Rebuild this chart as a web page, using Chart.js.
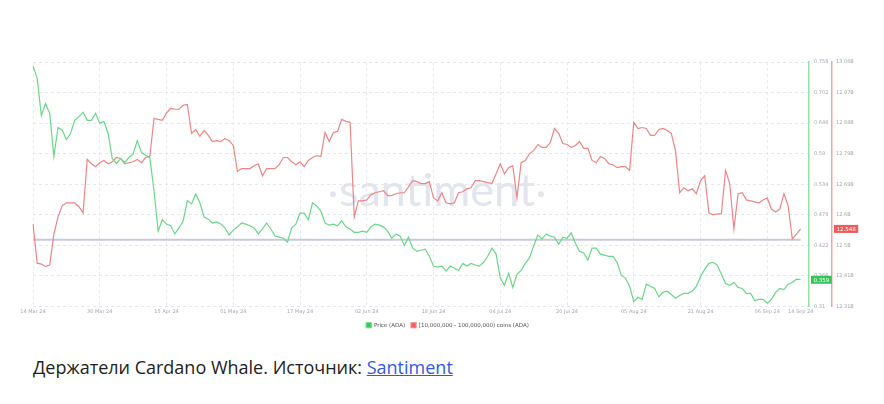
<!DOCTYPE html>
<html>
<head>
<meta charset="utf-8">
<script src="https://cdn.jsdelivr.net/npm/chart.js@4"></script>
<style>
  body { margin: 0; background: #fff; }
  #wrap { position: absolute; left: 0; top: 0; width: 884px; height: 340px; }
  #caption { position: absolute; left: 33px; top: 355px; font-family: 'Open Sans', sans-serif; font-size: 18px; color: #222; }
  #caption a { color: #2f5ae8; text-decoration: underline; }
</style>
</head>
<body>
<div id="wrap"><canvas id="whaleChart"></canvas></div>
<div id="caption">Держатели Cardano Whale. Источник: <a href="#">Santiment</a></div>
<script>
// daily values, 14 Mar 24 .. 14 Sep 24
const priceADA = [
  0.751, 0.728, 0.660, 0.682, 0.664, 0.585, 0.638, 0.633, 0.616, 0.627,
  0.651, 0.658, 0.666, 0.651, 0.651, 0.664, 0.646, 0.649, 0.627, 0.581,
  0.572, 0.581, 0.574, 0.583, 0.590, 0.614, 0.592, 0.587, 0.583, 0.522,
  0.448, 0.469, 0.461, 0.458, 0.443, 0.454, 0.467, 0.504, 0.498, 0.516,
  0.500, 0.474, 0.470, 0.463, 0.465, 0.461, 0.454, 0.441, 0.450, 0.456,
  0.463, 0.461, 0.458, 0.454, 0.443, 0.452, 0.463, 0.452, 0.439, 0.437,
  0.435, 0.428, 0.454, 0.461, 0.481, 0.481, 0.469, 0.500, 0.494, 0.485,
  0.463, 0.459, 0.461, 0.458, 0.467, 0.456, 0.452, 0.446, 0.446, 0.448,
  0.446, 0.456, 0.461, 0.459, 0.456, 0.448, 0.435, 0.443, 0.439, 0.422,
  0.437, 0.417, 0.411, 0.413, 0.415, 0.402, 0.384, 0.382, 0.384, 0.375,
  0.384, 0.380, 0.376, 0.389, 0.384, 0.389, 0.386, 0.384, 0.391, 0.402,
  0.417, 0.406, 0.362, 0.349, 0.371, 0.345, 0.369, 0.376, 0.389, 0.399,
  0.421, 0.441, 0.434, 0.443, 0.439, 0.437, 0.424, 0.437, 0.435, 0.445,
  0.426, 0.411, 0.408, 0.395, 0.417, 0.417, 0.406, 0.404, 0.402, 0.402,
  0.391, 0.367, 0.362, 0.347, 0.319, 0.327, 0.323, 0.351, 0.347, 0.343,
  0.328, 0.336, 0.338, 0.332, 0.325, 0.330, 0.334, 0.334, 0.338, 0.347,
  0.365, 0.378, 0.389, 0.391, 0.386, 0.369, 0.352, 0.349, 0.354, 0.345,
  0.343, 0.334, 0.334, 0.321, 0.323, 0.323, 0.316, 0.323, 0.336, 0.343,
  0.341, 0.351, 0.354, 0.360, 0.359
];

// coins held by 10M-100M ADA wallets, in billions
const whaleHoldings = [
  12.563, 12.443, 12.440, 12.433, 12.437, 12.532, 12.585, 12.619, 12.628, 12.628,
  12.628, 12.616, 12.597, 12.761, 12.748, 12.739, 12.751, 12.758, 12.748, 12.754,
  12.767, 12.764, 12.748, 12.751, 12.754, 12.761, 12.751, 12.767, 12.770, 12.887,
  12.884, 12.881, 12.903, 12.918, 12.915, 12.915, 12.927, 12.930, 12.841, 12.853,
  12.832, 12.850, 12.835, 12.816, 12.819, 12.816, 12.825, 12.819, 12.804, 12.724,
  12.733, 12.733, 12.733, 12.742, 12.748, 12.711, 12.733, 12.733, 12.733, 12.745,
  12.767, 12.767, 12.754, 12.745, 12.754, 12.739, 12.758, 12.767, 12.773, 12.770,
  12.844, 12.816, 12.844, 12.847, 12.884, 12.878, 12.875, 12.585, 12.634, 12.634,
  12.637, 12.653, 12.659, 12.662, 12.665, 12.650, 12.650, 12.656, 12.659, 12.659,
  12.677, 12.696, 12.693, 12.687, 12.687, 12.693, 12.643, 12.634, 12.659, 12.628,
  12.625, 12.628, 12.659, 12.662, 12.671, 12.674, 12.696, 12.696, 12.693, 12.690,
  12.687, 12.717, 12.748, 12.717, 12.736, 12.742, 12.643, 12.751, 12.758, 12.779,
  12.788, 12.807, 12.798, 12.798, 12.813, 12.856, 12.841, 12.810, 12.807, 12.798,
  12.804, 12.816, 12.795, 12.795, 12.758, 12.751, 12.770, 12.764, 12.748, 12.745,
  12.736, 12.739, 12.739, 12.727, 12.875, 12.856, 12.859, 12.856, 12.835, 12.835,
  12.853, 12.856, 12.850, 12.841, 12.788, 12.659, 12.674, 12.665, 12.671, 12.656,
  12.696, 12.711, 12.597, 12.591, 12.594, 12.594, 12.727, 12.687, 12.548, 12.656,
  12.659, 12.637, 12.634, 12.631, 12.628, 12.637, 12.643, 12.609, 12.600, 12.609,
  12.656, 12.619, 12.517, 12.532, 12.548
];

const tickDates = ['14 Mar 24', '30 Mar 24', '15 Apr 24', '01 May 24', '17 May 24', '02 Jun 24',
  '18 Jun 24', '04 Jul 24', '20 Jul 24', '05 Aug 24', '21 Aug 24', '06 Sep 24', '14 Sep 24'];
const priceTicks = [0.31, 0.366, 0.422, 0.478, 0.534, 0.59, 0.646, 0.702, 0.758];
const priceTickLabels = ['0.31', '0.366', '0.422', '0.478', '0.534', '0.59', '0.646', '0.702', '0.758'];
const holdingTicks = [12.31, 12.40375, 12.4975, 12.59125, 12.685, 12.77875, 12.8725, 12.96625, 13.06];
const holdingTickLabels = ['12.31B', '12.41B', '12.5B', '12.6B', '12.69B', '12.79B', '12.88B', '12.97B', '13.06B'];
const refLevel = 12.515;

// day labels; two spare days after the last value leave room at the right edge
const months = ['Jan', 'Feb', 'Mar', 'Apr', 'May', 'Jun', 'Jul', 'Aug', 'Sep', 'Oct', 'Nov', 'Dec'];
const days = [];
for (let i = 0; i < priceADA.length + 2; i++) {
  const d = new Date(Date.UTC(2024, 2, 14 + i));
  days.push(String(d.getUTCDate()).padStart(2, '0') + ' ' + months[d.getUTCMonth()] + ' 24');
}

const GREEN = '#6ad886';
const RED = '#f08585';

const watermark = {
  id: 'watermark',
  beforeDatasetsDraw(chart) {
    const {ctx, chartArea} = chart;
    const cx = (chartArea.left + chartArea.right) / 2 + 16;
    const cy = (chartArea.top + chartArea.bottom) / 2 + 7;
    ctx.save();
    ctx.fillStyle = '#e3e5ee';
    ctx.font = '400 45px Lato';
    ctx.textAlign = 'center';
    ctx.textBaseline = 'middle';
    ctx.fillText('santiment', cx, cy);
    ctx.beginPath();
    ctx.arc(cx - 104, cy + 3, 3, 0, Math.PI * 2);
    ctx.arc(cx + 104, cy + 3, 3, 0, Math.PI * 2);
    ctx.fill();
    ctx.restore();
  }
};

const lastBadges = {
  id: 'lastBadges',
  afterDraw(chart) {
    const {ctx} = chart;
    const items = [
      {scale: chart.scales.price, value: priceADA[priceADA.length - 1], text: priceADA[priceADA.length - 1].toFixed(3), color: '#36c45a'},
      {scale: chart.scales.holdings, value: whaleHoldings[whaleHoldings.length - 1], text: whaleHoldings[whaleHoldings.length - 1].toFixed(3), color: '#f25b5b'}
    ];
    ctx.save();
    ctx.font = '5.5px "DejaVu Sans"';
    ctx.textBaseline = 'middle';
    items.forEach(it => {
      const y = it.scale.getPixelForValue(it.value);
      const x = it.scale.left + 2;
      const w = ctx.measureText(it.text).width + 5;
      ctx.fillStyle = it.color;
      ctx.fillRect(x, y - 4, w, 8);
      ctx.fillStyle = '#fff';
      ctx.fillText(it.text, x + 2.5, y + 0.5);
    });
    ctx.restore();
  }
};

const ctx = document.getElementById('whaleChart').getContext('2d');
new Chart(ctx, {
  type: 'line',
  data: {
    labels: days,
    datasets: [
      {
        label: 'Price (ADA)',
        data: priceADA,
        yAxisID: 'price',
        borderColor: GREEN,
        backgroundColor: '#2ecc55',
        borderWidth: 1.2,
        pointRadius: 0,
        tension: 0
      },
      {
        label: '[10,000,000 - 100,000,000) coins (ADA)',
        data: whaleHoldings,
        yAxisID: 'holdings',
        borderColor: RED,
        backgroundColor: '#ff5858',
        borderWidth: 1.2,
        pointRadius: 0,
        tension: 0
      },
      {
        label: 'ref',
        data: whaleHoldings.map(() => refLevel),
        yAxisID: 'holdings',
        borderColor: '#c8c8de',
        borderWidth: 2,
        pointRadius: 0
      }
    ]
  },
  options: {
    responsive: true,
    maintainAspectRatio: false,
    animation: false,
    layout: { padding: { left: 33, right: 22, top: 62, bottom: 2 } },
    plugins: {
      legend: {
        position: 'bottom',
        labels: {
          boxWidth: 5,
          boxHeight: 5,
          padding: 6,
          color: '#555',
          font: { size: 5.5, family: 'DejaVu Sans' },
          filter: item => item.text !== 'ref'
        }
      },
      tooltip: { enabled: false }
    },
    scales: {
      x: {
        ticks: {
          autoSkip: false,
          maxRotation: 0,
          padding: 2,
          color: '#a4a8b4',
          font: { size: 5, family: 'DejaVu Sans' },
          callback: (v, i) => tickDates.includes(days[i]) ? days[i] : ''
        },
        grid: {
          drawTicks: false,
          color: c => (c.tick && tickDates.includes(days[c.tick.value]) && days[c.tick.value] !== '14 Sep 24') ? '#e9e9ef' : 'transparent'
        },
        border: { display: false, dash: [3, 3] }
      },
      price: {
        position: 'right',
        min: 0.31,
        max: 0.758,
        afterBuildTicks: s => { s.ticks = priceTicks.map(v => ({value: v})); },
        afterFit: s => { s.width = 23; },
        ticks: {
          padding: 5,
          color: '#a4a8b4',
          font: { size: 5, family: 'DejaVu Sans' },
          callback: (v, i) => priceTickLabels[i]
        },
        grid: { drawTicks: false, color: '#e6e6ee' },
        border: { color: '#8fe3a2', width: 1.5, dash: [3, 3] }
      },
      holdings: {
        position: 'right',
        min: 12.31,
        max: 13.06,
        afterBuildTicks: s => { s.ticks = holdingTicks.map(v => ({value: v})); },
        afterFit: s => { s.width = 30; },
        ticks: {
          padding: 4,
          color: '#a4a8b4',
          font: { size: 5, family: 'DejaVu Sans' },
          callback: (v, i) => holdingTickLabels[i]
        },
        grid: { display: false, drawTicks: false },
        border: { color: '#f3a3a3', width: 1.5 }
      }
    }
  },
  plugins: [watermark, lastBadges]
});
</script>
</body>
</html>
